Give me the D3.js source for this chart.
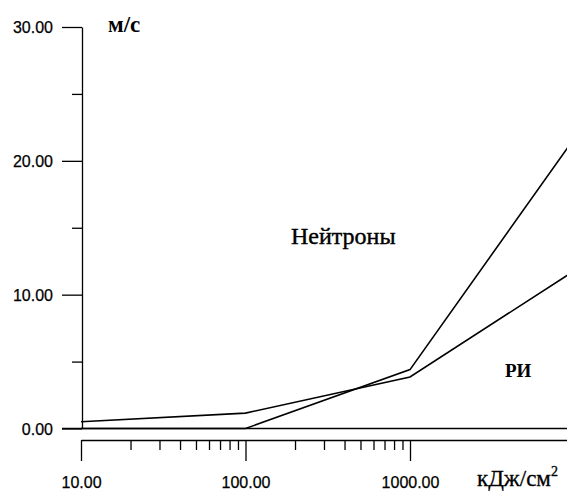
<!DOCTYPE html>
<html><head><meta charset="utf-8">
<script src="https://cdn.jsdelivr.net/npm/d3@7"></script>
<style>body{margin:0;background:#fff}svg{display:block}</style>
</head><body><svg id="c" width="567" height="491"></svg>
<script>
const energy = [10, 100, 1000, 10000];
const neutrons = [0, 0, 4.4, 21.7];
const ri = [0.5, 1.15, 3.85, 11.8];
const yTicks = [0, 10, 20, 30];
const yMinor = [5, 15, 25];
const xTicks = [10, 100, 1000];
const xMinor = [20,30,40,50,60,70,80,90,200,300,400,500,600,700,800,900];
const seriesLabels = ["Нейтроны", "РИ"];
const yUnit = "м/с";
const xUnit = "кДж/см";

const svg = d3.select("#c");
const x = d3.scaleLog().domain([10, 10000]).range([81, 574.5]);
const y = d3.scaleLinear().domain([0, 30]).range([428.5, 27]);
const W = 567;
const sansFont = "'Liberation Sans', Arial, sans-serif";
const serifFont = "'Liberation Serif', 'Times New Roman', serif";

// Y axis
const ya = svg.append("g").attr("transform", "translate(82,0)")
  .call(d3.axisLeft(y).tickValues(yTicks).tickSize(20).tickSizeOuter(0).tickFormat(d3.format(".2f")).tickPadding(9));
ya.selectAll("text").attr("font-family", sansFont).attr("font-size", 16).attr("fill", "#000")
  .attr("stroke", "#000").attr("stroke-width", 0.25).attr("dy", "0.36em");
ya.selectAll("line,path").attr("stroke", "#000").attr("stroke-width", 1.3);
const yam = svg.append("g").attr("transform", "translate(82,0)")
  .call(d3.axisLeft(y).tickValues(yMinor).tickSize(10).tickFormat(""));
yam.select(".domain").remove();
yam.selectAll("line").attr("stroke", "#000").attr("stroke-width", 1.3);

// zero line
svg.append("line").attr("x1", 62).attr("x2", W).attr("y1", y(0)).attr("y2", y(0))
  .attr("stroke", "#000").attr("stroke-width", 1.3);

// X axis
const xa = svg.append("g").attr("transform", "translate(0,440)")
  .call(d3.axisBottom(x).tickValues(xTicks).tickSize(21).tickSizeOuter(0).tickFormat(d3.format(".2f")).tickPadding(16));
xa.selectAll("text").attr("font-family", sansFont).attr("font-size", 16).attr("fill", "#000")
  .attr("stroke", "#000").attr("stroke-width", 0.25);
xa.selectAll("line,path").attr("stroke", "#000").attr("stroke-width", 1.3);
const xam = svg.append("g").attr("transform", "translate(0,440)")
  .call(d3.axisBottom(x).tickValues(xMinor).tickSize(10).tickFormat(""));
xam.select(".domain").remove();
xam.selectAll("line").attr("stroke", "#000").attr("stroke-width", 1.3);

// Lines
const line = d3.line().x((d, i) => x(energy[i])).y(d => y(d));
[neutrons, ri].forEach(s => {
  svg.append("path").datum(s).attr("d", line).attr("fill", "none")
    .attr("stroke", "#000").attr("stroke-width", 1.6);
});

// Labels
svg.append("text").attr("x", 291).attr("y", 244).attr("font-family", serifFont)
  .attr("font-size", 24).attr("fill", "#000").attr("stroke", "#000").attr("stroke-width", 0.4)
  .text(seriesLabels[0]);
svg.append("text").attr("x", 505).attr("y", 377).attr("font-family", serifFont)
  .attr("font-weight", "bold").attr("font-size", 19).attr("fill", "#000").text(seriesLabels[1]);
svg.append("text").attr("x", 108).attr("y", 32).attr("font-family", serifFont)
  .attr("font-weight", "bold").attr("font-size", 23).attr("fill", "#000").text(yUnit);
const xu = svg.append("text").attr("x", 477).attr("y", 486).attr("font-family", serifFont)
  .attr("font-size", 23).attr("fill", "#000").attr("stroke", "#000").attr("stroke-width", 0.3).text(xUnit);
xu.append("tspan").attr("font-size", 14).attr("dy", -10).text("2");
</script></body></html>
